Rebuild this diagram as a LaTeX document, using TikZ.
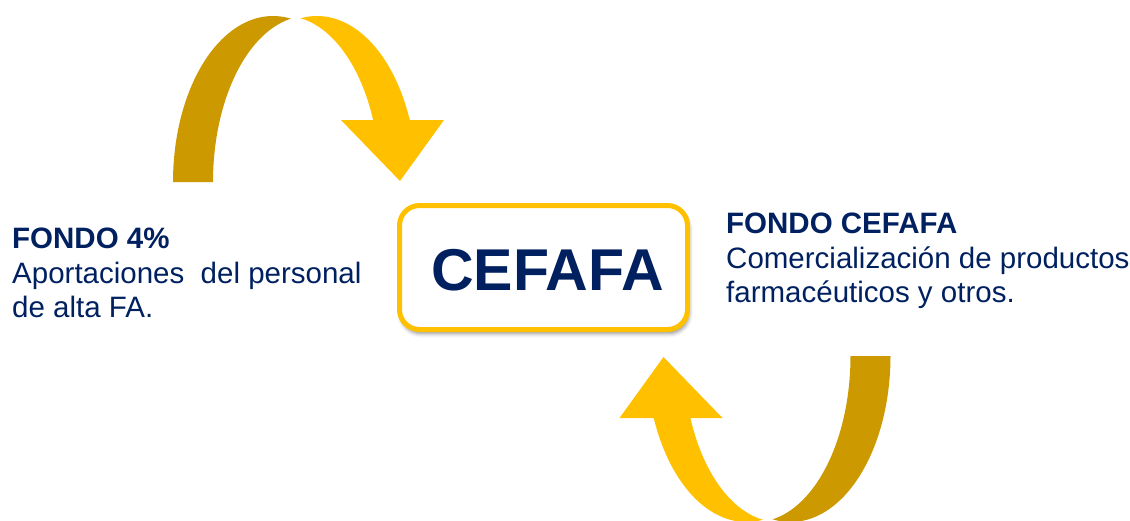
\documentclass[tikz,border=0pt]{standalone}
\usepackage{fontspec}
\setmainfont{Liberation Sans}
\usetikzlibrary{shadows.blur}
\definecolor{navy}{HTML}{002060}
\definecolor{goldlight}{HTML}{FFC000}
\definecolor{golddark}{HTML}{CC9900}
\begin{document}
\begin{tikzpicture}[x=1pt,y=-1pt,
  arrowback/.style={fill=golddark, draw=none},
  arrowfront/.style={fill=goldlight, draw=none},
  cbox/.style={draw=goldlight, line width=5pt, fill=white, rounded corners=20pt,
    minimum width=288pt, minimum height=124pt, inner sep=0pt,
    blur shadow={shadow xshift=1.5pt, shadow yshift=-4pt, shadow opacity=45, shadow blur radius=4pt}},
  title/.style={font=\bfseries\fontsize{59}{70}\selectfont, text=navy, inner sep=0pt},
  head/.style={font=\bfseries\fontsize{29.5}{35}\selectfont, text=navy, inner sep=0pt, anchor=base west},
  body/.style={font=\fontsize{29.5}{35}\selectfont, text=navy, inner sep=0pt, anchor=base west},
]
\useasboundingbox (0,0) rectangle (1130,520);

% top curved arrow
\fill[arrowback] plot[domain=180:79.7, samples=60, variable=\t] ({273+100*cos(\t)},{182-166*sin(\t)})
  -- plot[domain=100.3:180, samples=60, variable=\t] ({308+95*cos(\t)},{182-166*sin(\t)}) -- cycle;
\fill[arrowfront] plot[domain=99.4:21.93, samples=60, variable=\t] ({317+100*cos(\t)},{182-166*sin(\t)})
  -- (444,120) -- (400,181) -- (341,120)
  -- plot[domain=21.93:80.6, samples=60, variable=\t] ({285+95*cos(\t)},{182-166*sin(\t)}) -- cycle;

% bottom curved arrow (point reflection of the top one)
\begin{scope}[rotate around={180:(531.75,269)}]
\fill[arrowback] plot[domain=180:79.7, samples=60, variable=\t] ({273+100*cos(\t)},{182-166*sin(\t)})
  -- plot[domain=100.3:180, samples=60, variable=\t] ({308+95*cos(\t)},{182-166*sin(\t)}) -- cycle;
\fill[arrowfront] plot[domain=99.4:21.93, samples=60, variable=\t] ({317+100*cos(\t)},{182-166*sin(\t)})
  -- (444,120) -- (400,181) -- (341,120)
  -- plot[domain=21.93:80.6, samples=60, variable=\t] ({285+95*cos(\t)},{182-166*sin(\t)}) -- cycle;
\end{scope}

% central box
\node[cbox] (box) at (543.5,267.5) {};
\node[title] (boxtext) at (547.5,270) {CEFAFA};

% left text
\node[head] (l1) at (12,248) {FONDO 4\%};
\node[body] (l2) at (12,283) {Aportaciones\ \ del personal};
\node[body] (l3) at (12,317) {de alta FA.};

% right text
\node[head] (r1) at (726,233) {FONDO CEFAFA};
\node[body] (r2) at (726,268) {Comercialización de productos};
\node[body] (r3) at (726,302) {farmacéuticos y otros.};
\end{tikzpicture}
\end{document}
